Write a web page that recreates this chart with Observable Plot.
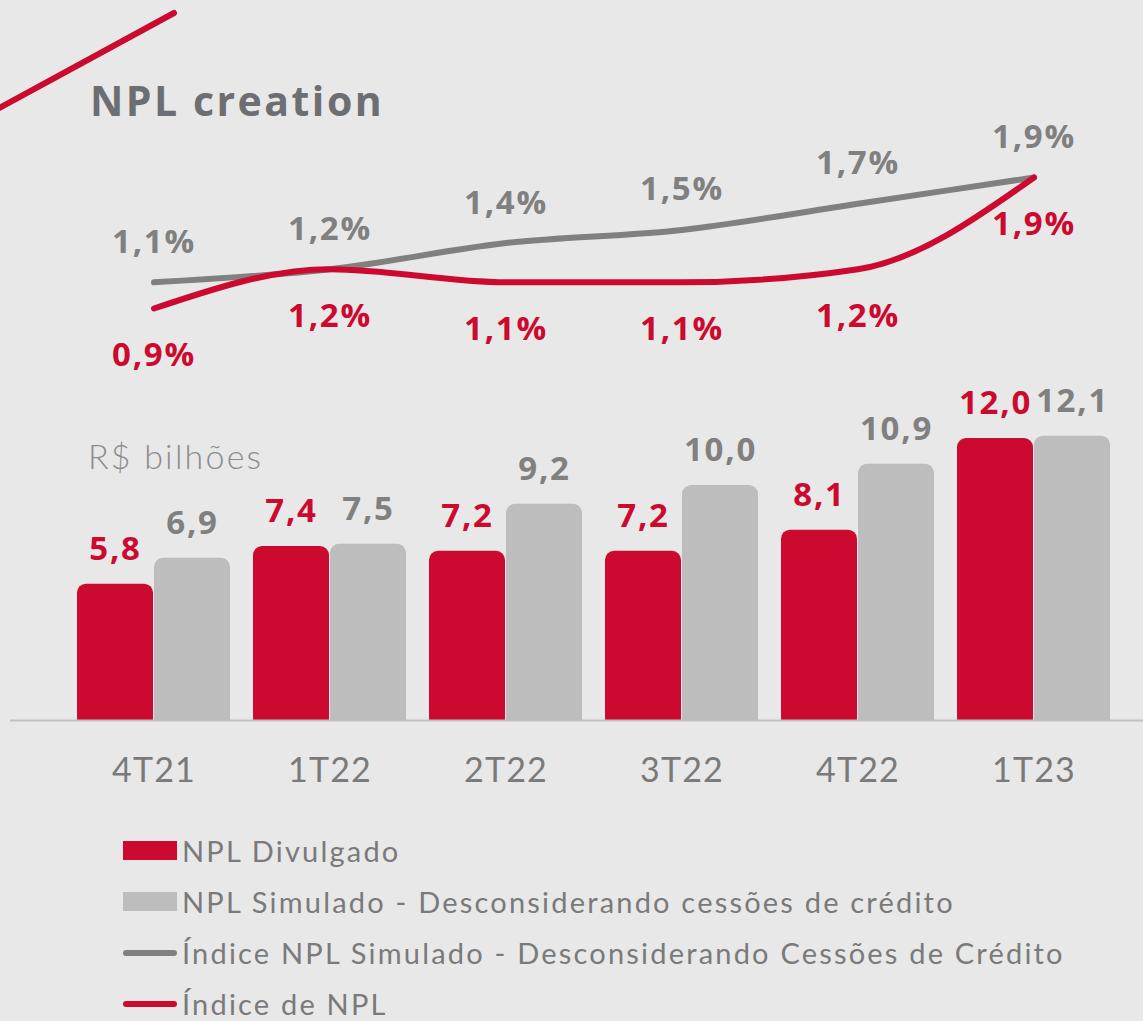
<!DOCTYPE html>
<html><head><meta charset="utf-8">
<script src="https://cdn.jsdelivr.net/npm/d3@7"></script>
<script src="https://cdn.jsdelivr.net/npm/@observablehq/plot@0.6"></script>
<style>
html,body{margin:0;padding:0;background:#e8e8e8;}
#wrap{position:relative;width:1143px;height:1021px;background:#e8e8e8;overflow:hidden;font-family:"Open Sans",Lato,sans-serif;}
#title{position:absolute;left:90px;top:72px;font-size:41px;font-weight:700;color:#6d6e71;font-family:"Open Sans",sans-serif;letter-spacing:2.5px;}
#deco{position:absolute;left:0;top:0;}
#unit{position:absolute;left:88px;top:435px;font-size:34px;font-weight:300;color:#8c8c8c;font-family:Lato,"Open Sans",sans-serif;letter-spacing:2.2px;}
#topchart{position:absolute;left:0;top:120px;}
#bottomchart{position:absolute;left:0;top:380px;}
#legend{position:absolute;left:123px;top:825px;font-family:Lato,"Open Sans",sans-serif;font-size:29px;color:#7a7a7a;letter-spacing:2.2px;}
.row{display:flex;align-items:center;height:51px;}
.sw{width:54px;margin-right:5px;display:inline-block;}
</style></head>
<body>
<div id="wrap">
  <svg id="deco" width="200" height="120"><line x1="-10" y1="113" x2="174" y2="13" stroke="#cc0a2f" stroke-width="6" stroke-linecap="round"/></svg>
  <div id="title">NPL creation</div>
  <div id="topchart"></div>
  <div id="unit">R$ bilhões</div>
  <div id="bottomchart"></div>
  <div id="legend"></div>
</div>
<script>
const quarters = ["4T21","1T22","2T22","3T22","4T22","1T23"];
const nplDivulgado = [5.8, 7.4, 7.2, 7.2, 8.1, 12.0];
const nplSimulado = [6.9, 7.5, 9.2, 10.0, 10.9, 12.1];
const indiceSimulado = [1.1, 1.2, 1.4, 1.5, 1.7, 1.9];
const indiceNPL = [0.9, 1.2, 1.1, 1.1, 1.2, 1.9];
const seriesNames = ["NPL Divulgado","NPL Simulado - Desconsiderando cessões de crédito","Índice NPL Simulado - Desconsiderando Cessões de Crédito","Índice de NPL"];

const RED = "#cc0a2f", GRAY_BAR = "#bdbdbd", GRAY_LINE = "#808080", GRAY_TXT = "#7a7a7a";
const fmt1 = v => v.toFixed(1).replace(".", ",");
const fmtPct = v => fmt1(v) + "%";

const simData = quarters.map((q,i)=>({q, v: indiceSimulado[i]}));
const nplData = quarters.map((q,i)=>({q, v: indiceNPL[i]}));
const bars1 = quarters.map((q,i)=>({q, v: nplDivulgado[i]}));
const bars2 = quarters.map((q,i)=>({q, v: nplSimulado[i]}));

const xOpts = {type:"band", domain: quarters, padding: 0.128, align: 0.5};
const W = 1143, ML = 53, MR = 8;
const labelFont = {fontFamily:"Open Sans, sans-serif", fontWeight:700, fontSize:33, style:{letterSpacing:"1.8px"}};

const lineChart = Plot.plot({
  width: W, height: 260,
  marginLeft: ML, marginRight: MR, marginTop: 57, marginBottom: 72,
  x: {...xOpts, axis: null},
  y: {domain:[0.9,1.9], axis: null},
  style: {background:"transparent", overflow:"visible", letterSpacing:"1.8px"},
  marks: [
    Plot.line(simData, {x:"q", y:"v", stroke: GRAY_LINE, strokeWidth: 6, curve:"monotone-x", strokeLinecap:"round"}),
    Plot.line(nplData, {x:"q", y:"v", stroke: RED, strokeWidth: 6, curve:"monotone-x", strokeLinecap:"round"}),
    Plot.text(simData, {x:"q", y:"v", text: d=>fmtPct(d.v), dy:-40, fill: GRAY_LINE, fontFamily:"Open Sans, sans-serif", fontWeight:700, fontSize:33}),
    Plot.text(nplData, {x:"q", y:"v", text: d=>fmtPct(d.v), dy:47, fill: RED, fontFamily:"Open Sans, sans-serif", fontWeight:700, fontSize:33})
  ]
});
document.getElementById("topchart").appendChild(lineChart);

const barChart = Plot.plot({
  width: W, height: 420,
  marginLeft: ML, marginRight: MR, marginTop: 58, marginBottom: 80,
  x: {...xOpts, label: null, tickSize: 0, tickPadding: 37},
  y: {domain:[0,12], axis: null},
  style: {background:"transparent", overflow:"visible", fontSize:"34px", color: GRAY_TXT, fontFamily:"Lato, Open Sans, sans-serif", letterSpacing:"1.2px"},
  marks: [
    Plot.barY(bars1, {x:"q", y:"v", fill: RED, insetRight: 77, rx1y1: 9, rx2y1: 9}),
    Plot.barY(bars2, {x:"q", y:"v", fill: GRAY_BAR, insetLeft: 77, rx1y1: 9, rx2y1: 9}),
    Plot.ruleY([0], {stroke:"#c0c0c0", strokeWidth: 2, insetLeft: -43, insetRight: -8}),
    Plot.text(bars1, {x:"q", y:"v", text: d=>fmt1(d.v), dx:-38.5, dy:-35, fill: RED, fontFamily:"Open Sans, sans-serif", fontWeight:700, fontSize:33}),
    Plot.text(bars2, {x:"q", y:"v", text: d=>fmt1(d.v), dx:38.5, dy:-35, fill: GRAY_LINE, fontFamily:"Open Sans, sans-serif", fontWeight:700, fontSize:33})
  ]
});
document.getElementById("bottomchart").appendChild(barChart);
// bold value labels get wider spacing like the reference
barChart.querySelectorAll("g[aria-label='text'] text").forEach(t => t.style.letterSpacing = "1.8px");

const legend = document.getElementById("legend");
const sw = [
  `<span class="sw" style="height:19px;background:${RED}"></span>`,
  `<span class="sw" style="height:19px;background:${GRAY_BAR}"></span>`,
  `<span class="sw" style="height:6px;border-radius:3px;background:${GRAY_LINE}"></span>`,
  `<span class="sw" style="height:6px;border-radius:3px;background:${RED}"></span>`
];
seriesNames.forEach((n,i)=>{
  const r = document.createElement("div");
  r.className = "row";
  r.innerHTML = sw[i] + `<span>${n}</span>`;
  legend.appendChild(r);
});
</script>
</body></html>
